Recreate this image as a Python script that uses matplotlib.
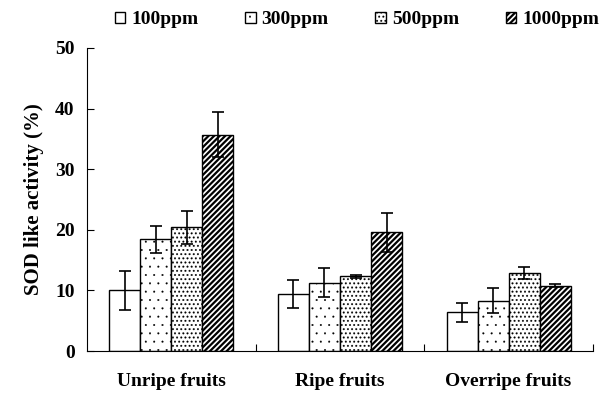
import numpy as np
import matplotlib.pyplot as plt
import matplotlib.hatch as mhatch
from matplotlib.patches import Patch


# small dots of fixed size, whatever the density of the pattern
class TinyDots(mhatch.Circles):
    filled = True

    def __init__(self, hatch, density):
        self.num_rows = hatch.count('.') * density
        self.size = 0.0085 * self.num_rows
        super().__init__(hatch, density)


mhatch._hatch_types = [TinyDots if t is mhatch.SmallFilledCircles else t
                       for t in mhatch._hatch_types]

plt.rcParams['font.family'] = ['Liberation Serif', 'DejaVu Serif']
plt.rcParams['font.weight'] = 'bold'

categories = ['Unripe fruits', 'Ripe fruits', 'Overripe fruits']
series = ['100ppm', '300ppm', '500ppm', '1000ppm']
values = [
    [10.0, 9.4, 6.4],
    [18.4, 11.3, 8.3],
    [20.4, 12.3, 12.9],
    [35.7, 19.6, 10.8],
]
errors = [
    [3.2, 2.3, 1.6],
    [2.3, 2.4, 2.1],
    [2.7, 0.3, 1.0],
    [3.7, 3.2, 0.2],
]
hatches = ['', '..', '....', '//////']
hatch_lw = [0.5, 0.2, 0.2, 1.6]

fig = plt.figure(figsize=(6.05, 4.03), dpi=100)
ax = fig.add_axes([0.144, 0.129, 0.836, 0.752])

x = np.arange(len(categories))
w = 0.184
for i in range(len(series)):
    pos = x + (i - 1.5) * w
    bars = ax.bar(pos, values[i], w, color='white', edgecolor='black', linewidth=1.0,
                  hatch=hatches[i], label=series[i])
    for b in bars:
        if hasattr(b, 'set_hatch_linewidth'):
            b.set_hatch_linewidth(hatch_lw[i])
    ax.errorbar(pos, values[i], yerr=errors[i], fmt='none', ecolor='black',
                elinewidth=1.2, capsize=4, capthick=1.2)

ax.set_xlim(-0.5, 2.5)
ax.set_ylim(0, 50)
ax.set_yticks([0, 10, 20, 30, 40, 50])
ax.set_xticks(x)
ax.set_xticklabels(categories, fontsize=14, fontweight='bold')
ax.set_xticks([0.5, 1.5, 2.5], minor=True)
ax.tick_params(axis='x', which='major', length=0, pad=16)
ax.tick_params(axis='x', which='minor', direction='in', length=5, width=0.8)
ax.tick_params(axis='y', direction='in', length=5, width=0.8, labelsize=14, pad=9)
for lab in ax.get_yticklabels():
    lab.set_fontweight('bold')
ax.set_ylabel('SOD like activity (%)', fontsize=15, fontweight='bold', labelpad=8)
ax.spines['top'].set_visible(False)
ax.spines['right'].set_visible(False)
ax.spines['left'].set_linewidth(0.8)
ax.spines['bottom'].set_linewidth(0.8)

handles = [Patch(facecolor='white', edgecolor='black', hatch=h, label=s)
           for h, s in zip(hatches, series)]
leg = fig.legend(handles=handles, loc='upper center', bbox_to_anchor=(0.59, 1.015),
                 ncol=4, frameon=False, handlelength=0.55, handleheight=0.55,
                 handletextpad=0.3, columnspacing=2.4, prop={'weight': 'bold', 'size': 14})
for p, lw in zip(leg.get_patches(), hatch_lw):
    if hasattr(p, 'set_hatch_linewidth'):
        p.set_hatch_linewidth(lw)

plt.savefig('out.png', dpi=100)
